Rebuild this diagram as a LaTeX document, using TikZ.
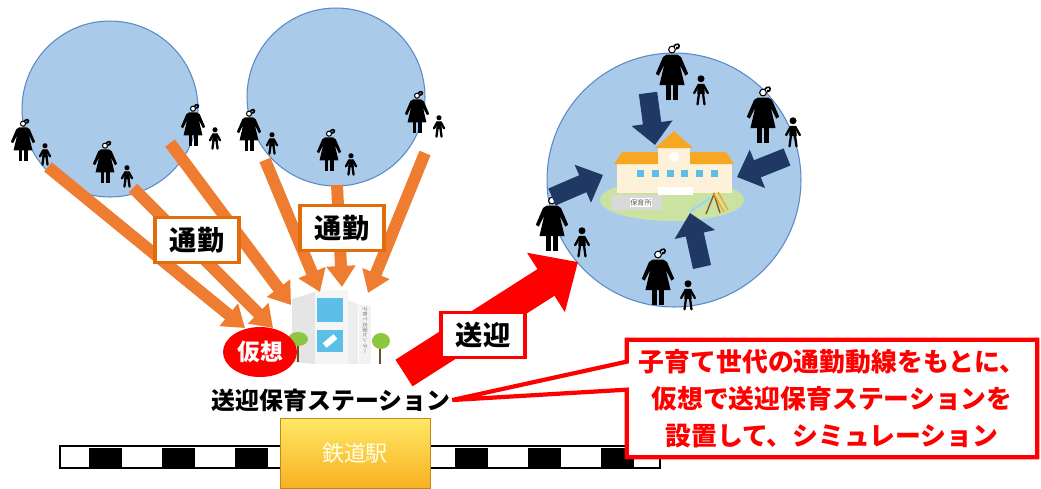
\documentclass[tikz,border=0pt]{standalone}
\usepackage{fontspec}
\newfontfamily\jp{Noto Sans CJK JP}
\usetikzlibrary{arrows.meta}
\usetikzlibrary{calc}
\usetikzlibrary{shapes.geometric}

\definecolor{areablue}{HTML}{AACAEA}
\definecolor{areaedge}{HTML}{5A8AC6}
\definecolor{commute}{HTML}{EE7D31}
\definecolor{commuteedge}{HTML}{E26B0A}
\definecolor{navy}{HTML}{1F3864}
\definecolor{roof}{HTML}{F7A823}
\definecolor{cream}{HTML}{FDF1DA}
\definecolor{winblue}{HTML}{5BBFE8}
\definecolor{lawn}{HTML}{CBE3A0}
\definecolor{leaf}{HTML}{8DC63F}
\definecolor{pickred}{HTML}{FF0000}

% figures: mother with ponytail, and a child
\tikzset{
  mom/.pic={
    \draw[line width=0.6pt,fill=white] (0,6.3) circle (2.8);
    \draw[line width=0.9pt] (1.3,3.8) .. controls (3.5,0.5) and (7.5,1.5) .. (5.5,4.8)
      .. controls (4.5,6.2) and (3,5.2) .. (4,4.1);
    \fill (-4.5,10.5) -- (4.5,10.5) -- (7.5,12.5) -- (13.5,26.5) -- (11,28) -- (6.5,19)
      -- (10.5,36) -- (-10.5,36) -- (-6.5,19) -- (-11,28) -- (-13.5,26.5) -- (-7.5,12.5) -- cycle;
    \fill (-5,36) rectangle (-1,48);
    \fill (1,36) rectangle (5,48);
  },
  kid/.pic={
    \fill (0,3) circle (2.8);
    \fill (-2.5,7) -- (2.5,7) -- (3,15) -- (-3,15) -- cycle;
    \draw[line width=1.3pt,line cap=round] (-2,8) -- (-5.5,14.5) (2,8) -- (5.5,14.5)
      (-1.5,14) -- (-2.8,23.5) (1.5,14) -- (2.8,23.5);
  },
  area/.style={circle, draw=areaedge, line width=0.6pt, fill=areablue, inner sep=0pt},
  commuteline/.style={draw=commute, line width=6.8pt, -{Triangle[length=0.42cm,width=0.56cm]}},
  gatherline/.style={draw=navy, line width=10.5pt, -{Triangle[length=0.44cm,width=0.8cm]}},
  tagbox/.style={draw=#1, line width=2pt, fill=white, minimum width=1.68cm,
    minimum height=0.9cm, inner sep=0pt, font=\jp\bfseries\fontsize{15.5}{18}\selectfont},
}

\begin{document}
\begin{tikzpicture}[x=0.02cm,y=-0.02cm]
\useasboundingbox (0,0) rectangle (1041,488);

% residential areas
\node[area, minimum size=3.52cm] (area1) at (110,109) {};
\node[area, minimum size=3.56cm] (area2) at (336,97) {};
\node[area, minimum size=5.08cm] (area3) at (674,180) {};

% nursery school in the middle of area3
\fill[lawn] (672,200) ellipse (72 and 21);
\fill[cream] (617,163) rectangle (732,193);
\fill[roof] (614,164) -- (622,152) -- (658,152) -- (658,164) -- cycle;
\fill[roof] (690,164) -- (690,152) -- (726,152) -- (734,164) -- cycle;
\fill[cream] (658,147) rectangle (690,195);
\fill[roof] (655,148) -- (674,131) -- (693,148) -- cycle;
\fill[white] (674,157) circle (5);
\foreach \i in {0,...,5}
  \fill[winblue] (637+\i*14.8,170) rectangle ++(7,7);
\fill[white] (658,187) rectangle (693,195);
\fill[gray!30] (612,195) rectangle (662,210);
\node[font=\jp\fontsize{4}{5}\selectfont, text=gray!70!black, fill=white, inner sep=0.5pt] (school) at (641,202.5) {保育所};
\draw[winblue!60, line width=1.5pt] (690,212) -- (710,198);
\draw[brown!70!black, line width=0.8pt] (706,214) -- (714,194) -- (720,213);
\draw[roof, line width=0.8pt] (714,194) -- (724,212) (718,192) -- (728,210);

% parents and children
\foreach \mx/\my/\kx/\ky in {23/118/45/143, 105/140/127/165, 193/103/215/127,
    249/108/272/132, 329/128/351/153, 417/90/439/115} {
  \pic[scale=0.9] at (\mx,\my) {mom};
  \pic[scale=0.92] at (\kx,\ky) {kid};
}
\foreach \mx/\my/\kx/\ky in {672/42/701/75, 763/85/793/117, 552/193/582/227, 658/247/688/280} {
  \pic[scale=1.2] at (\mx,\my) {mom};
  \pic[scale=1.25] at (\kx,\ky) {kid};
}

% gathering to the school
\coordinate (gN) at (648,93);   \coordinate (sN) at (655,145);
\coordinate (gE) at (787,157);  \coordinate (sE) at (737,177);
\coordinate (gW) at (552,197);  \coordinate (sW) at (603,175);
\coordinate (gS) at (702,267);  \coordinate (sS) at (690,213);
\foreach \a/\b in {gN/sN, gE/sE, gW/sW, gS/sS}
  \draw[gatherline] (\a) -- (\b);

% pick-up station building
\fill[gray!20] (292,299) -- (315,292) -- (315,364) -- (292,362) -- cycle;
\fill[gray!8] (315,290) rectangle (348,364);
\fill[winblue] (317,298) rectangle (343,322);
\fill[winblue] (317,330) rectangle (343,352);
\fill[white, rotate around={40:(330,341)}] (323,338) rectangle (337,344);
\fill[gray!14] (348,300) -- (358,304) -- (358,364) -- (348,364) -- cycle;
\fill[gray!10] (359,305) rectangle (371,364);
\node[rotate=-90, font=\jp\fontsize{3}{4}\selectfont, text=gray] at (365,330) {子育て支援センター};
\draw[brown!60!black, line width=1pt] (298,345) -- (298,362) (380,346) -- (380,364);
\fill[leaf] (298,339) ellipse (10 and 7);
\fill[leaf] (381,341) ellipse (9 and 8);
\coordinate (hub) at (330,327);

% commuting flows
\coordinate (c1) at (48,167);   \coordinate (h1) at (245,328);
\coordinate (c2) at (133,188);  \coordinate (h2) at (273,328);
\coordinate (c3) at (170,143);  \coordinate (h3) at (291,305);
\coordinate (c4) at (265,160);  \coordinate (h4) at (320,292);
\coordinate (c5) at (337,185);  \coordinate (h5) at (342,287);
\coordinate (c6) at (425,153);  \coordinate (h6) at (368,293);
\foreach \a/\b in {c1/h1, c2/h2, c3/h3, c4/h4, c5/h5, c6/h6}
  \draw[commuteline] (\a) -- (\b);
\node[tagbox=commuteedge] (commute1) at (197,240) {通勤};
\node[tagbox=commuteedge] (commute2) at (342,228) {通勤};

\node[ellipse, fill=pickred, minimum width=1.48cm, minimum height=1cm, inner sep=0pt,
  text=white, font=\jp\bfseries\fontsize{13}{15}\selectfont] (virtual) at (260,352) {仮想};
\node[inner sep=1pt, font=\jp\bfseries\fontsize{13.6}{16}\selectfont] (stationlabel) at (331,400) {送迎保育ステーション};

% railway line
\draw[line width=0.6pt] (60,446) rectangle (660,468);
\foreach \x in {89,162,235,455,528,601}
  \fill (\x,448) rectangle ++(33,20);
\node[draw=roof!80!black, line width=0.3pt, top color=yellow!70!orange!60, bottom color=roof!90!yellow,
  minimum width=3cm, minimum height=1.4cm, text=white!90!yellow,
  font=\jp\fontsize{12.5}{15}\selectfont] (station) at (355,453) {鉄道駅};

% pick-up route to the nursery
\coordinate (pickfrom) at (404,373);
\coordinate (pickto) at (578,262);
\draw[draw=pickred, line width=18pt, -{Triangle[length=0.76cm,width=1.36cm]}] (pickfrom) -- (pickto);
\node[tagbox=pickred] (pickup) at (483,335) {送迎};

% callout
\path node[minimum width=8.2cm, minimum height=2.34cm, inner sep=0pt] (note) at (832,398.5) {};
\draw[pickred, line width=2.4pt, fill=white, line join=miter]
  (note.north west) -- (note.north east) -- (note.south east) -- (note.south west)
  -- ($(note.north west)+(0,50)$) -- (stationlabel.east) -- ($(note.north west)+(0,22)$) -- cycle;
\node[align=center, text=pickred, font=\jp\bfseries\fontsize{14.7}{21}\selectfont] (notetext) at (note)
  {子育て世代の通勤動線をもとに、\\仮想で送迎保育ステーションを\\設置して、シミュレーション};

\end{tikzpicture}
\end{document}
